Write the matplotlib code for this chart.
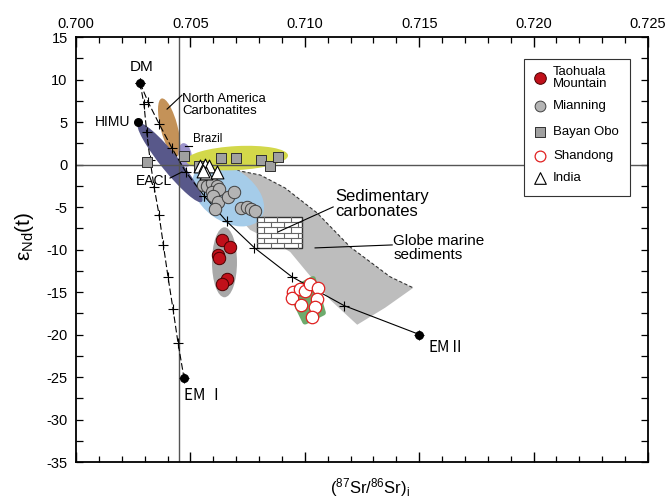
import matplotlib
matplotlib.use('Agg')
import matplotlib.pyplot as plt
from matplotlib.patches import Ellipse, Polygon, Rectangle
from matplotlib.transforms import ScaledTranslation
import numpy as np

plt.rcParams['font.family'] = ['Liberation Sans', 'DejaVu Sans']
plt.rcParams['mathtext.fontset'] = 'custom'
plt.rcParams['mathtext.rm'] = 'Liberation Sans'
plt.rcParams['mathtext.default'] = 'regular'
plt.rcParams['axes.unicode_minus'] = False

# End members (87Sr/86Sr, eNd)
dm = (0.70280, 9.6)
himu = (0.70272, 5.0)
em1 = (0.70472, -25.1)
em2 = (0.71501, -20.0)

# Mixing curves with tick marks
mix1_sr = [0.70280, 0.70297, 0.70309, 0.70324, 0.70341, 0.70363, 0.70382, 0.70402, 0.70424, 0.70446, 0.70472]
mix1_nd = [9.6, 7.1, 3.8, 0.5, -2.6, -5.9, -9.5, -13.2, -17.0, -21.0, -25.1]
mix2_sr = [0.70280, 0.70316, 0.70363, 0.70418, 0.70479, 0.70560, 0.70659, 0.70780, 0.70943, 0.71172, 0.71501]
mix2_nd = [9.6, 7.3, 4.8, 2.0, -0.85, -3.7, -6.7, -9.8, -13.2, -16.6, -20.0]

# Samples
tao_sr = [0.70637, 0.70673, 0.70622, 0.70627, 0.70659, 0.70640]
tao_nd = [-8.9, -9.7, -10.6, -11.0, -13.5, -14.1]
mian_sr = [0.70555, 0.70573, 0.70595, 0.70617, 0.70595, 0.70625, 0.70599, 0.70621,
           0.70608, 0.70665, 0.70691, 0.70721, 0.70748, 0.70765, 0.70783]
mian_nd = [-2.4, -2.5, -2.2, -2.5, -3.2, -2.9, -3.7, -4.4, -5.2, -3.8, -3.2, -5.1, -5.0, -5.2, -5.5]
bayan_sr = [0.70310, 0.70470, 0.70536, 0.70634, 0.70700, 0.70809, 0.70848, 0.70883]
bayan_nd = [0.24, 1.06, -0.18, 0.73, 0.73, 0.53, -0.12, 0.94]
shan_sr = [0.70949, 0.70944, 0.70979, 0.71001, 0.71023, 0.71056, 0.71052, 0.70983, 0.71045, 0.71031]
shan_nd = [-15.0, -15.7, -14.6, -14.9, -14.1, -14.5, -15.8, -16.5, -16.8, -17.9]
india_sr = [0.70542, 0.70564, 0.70582, 0.70568, 0.70617, 0.70555]
india_nd = [-0.18, -0.06, -0.18, -1.0, -0.88, -0.76]

# Globe marine sediments field
gms_sr = [0.70533, 0.70695, 0.70805, 0.70914, 0.71054, 0.71198, 0.71373, 0.71474, 0.71351,
          0.71229, 0.71111, 0.71001, 0.70936, 0.70848, 0.70761, 0.70673, 0.70586]
gms_nd = [-0.41, -0.65, -1.23, -2.76, -5.70, -9.69, -13.21, -14.51, -16.85,
          -18.85, -15.92, -12.39, -10.28, -8.87, -7.69, -5.11, -2.76]
# Shandong field
sd_sr = [0.70936, 0.71036, 0.71080, 0.71001]
sd_nd = [-14.88, -13.45, -17.44, -18.50]
# Sedimentary carbonates box
carb_sr = (0.70791, 0.70988)
carb_nd = (-9.8, -6.2)

fig = plt.figure(figsize=(6.69, 4.99), dpi=100)
ax = fig.add_axes([0.1136, 0.0741, 0.855, 0.8517])
ax.set_xlim(0.700, 0.725)
ax.set_ylim(-35, 15)


def blob(cx, cy, w, h, angle, color, z=2):
    # ellipse sized in pixels, centred on a data point
    tr = fig.dpi_scale_trans + ScaledTranslation(cx, cy, ax.transData)
    e = Ellipse((0, 0), w / 100, h / 100, angle=angle, transform=tr,
                facecolor=color, edgecolor='none', zorder=z)
    ax.add_patch(e)


# fields
ax.add_patch(Polygon(np.column_stack([gms_sr, gms_nd]), closed=True,
                     facecolor='#bdbdbd', edgecolor='none', zorder=1.5))
ax.plot(gms_sr[:8], gms_nd[:8], ls=(0, (3, 2)), color='#333333', lw=0.8, zorder=1.6)
ax.add_patch(Polygon(np.column_stack([sd_sr, sd_nd]), closed=True,
                     facecolor='#6dab6d', edgecolor='#6dab6d', lw=4, joinstyle='round', zorder=2))
blob(0.70665, -3.6, 80, 52, -35, '#a5cce9')
blob(0.70649, -11.5, 25, 70, 0, '#a8a8a8')
blob(0.70407, 4.35, 60, 17, -75.6, '#c49258')
blob(0.70411, 0.23, 101, 18, -51, '#58588a')
blob(0.70704, 0.76, 102, 24, 3, '#d3d84a', z=2.2)
blob(0.70477, 1.12, 13, 24, 10, '#9c93cc', z=2.1)

# reference lines
ax.axhline(0, color='#555555', lw=1.0, zorder=2.5)
ax.axvline(0.7045, color='#555555', lw=1.0, zorder=2.5)

# sedimentary carbonates brick box
x0, x1 = carb_sr
y0, y1 = carb_nd
ax.add_patch(Rectangle((x0, y0), x1 - x0, y1 - y0, facecolor='white',
                       edgecolor='#333333', lw=1.0, zorder=3))
nrow = 6
dy = (y1 - y0) / nrow
bw = (x1 - x0) / 3.3
for i in range(nrow):
    yb = y0 + i * dy
    if i > 0:
        ax.plot([x0, x1], [yb, yb], color='#666666', lw=0.8, zorder=3.1)
    xs = x0 + (bw / 2 if i % 2 else bw)
    while xs < x1 - 1e-6:
        ax.plot([xs, xs], [yb, yb + dy], color='#666666', lw=0.8, zorder=3.1)
        xs += bw

# mixing curves
ax.plot(mix1_sr, mix1_nd, color='black', lw=0.8, ls=(0, (6, 2.5)), marker='+',
        ms=7, mew=0.8, zorder=4)
ax.plot(mix2_sr[:6], mix2_nd[:6], color='black', lw=0.8, ls=(0, (6, 2.5)), marker='+',
        ms=7, mew=0.8, zorder=4)
ax.plot(mix2_sr[5:], mix2_nd[5:], color='black', lw=0.8, marker='+',
        ms=7, mew=0.8, zorder=4)

# end members
ax.scatter([dm[0], himu[0], em1[0], em2[0]], [dm[1], himu[1], em1[1], em2[1]],
           s=30, color='black', zorder=6)

# samples
ax.scatter(bayan_sr, bayan_nd, marker='s', s=55, facecolor='#a0a0a0', edgecolor='#303030', lw=0.7, zorder=5)
ax.scatter(mian_sr, mian_nd, marker='o', s=80, facecolor='#b4b4b4', edgecolor='#404040', lw=0.7, zorder=5)
ax.scatter(tao_sr, tao_nd, marker='o', s=80, facecolor='#c0101a', edgecolor='#4a0000', lw=0.7, zorder=5)
ax.scatter(shan_sr, shan_nd, marker='o', s=80, facecolor='white', edgecolor='#e02020', lw=0.9, zorder=5)
ax.scatter(india_sr, india_nd, marker='^', s=85, facecolor='white', edgecolor='black', lw=0.8, zorder=5.5)

# labels and leaders
ax.text(0.70287, 11.5, 'DM', fontsize=11, ha='center', va='center')
ax.text(0.70236, 5.05, 'HIMU', fontsize=10, ha='right', va='center')
ax.text(0.70262, -1.94, 'EACL', fontsize=10, ha='left', va='center')
ax.text(0.70463, 7.0, 'North America\nCarbonatites', fontsize=9.5, ha='left', va='center', linespacing=1.0)
ax.text(0.70512, 3.0, 'Brazil', fontsize=8.5, ha='left', va='center')
ax.text(0.71133, -4.6, 'Sedimentary\ncarbonates', fontsize=12, ha='left', va='center', linespacing=1.0)
ax.text(0.71386, -9.81, 'Globe marine\nsediments', fontsize=11, ha='left', va='center', linespacing=1.0)
ax.text(0.70472, -27.2, 'EM \u2160', fontsize=11, ha='left', va='center',
        family=['Noto Sans CJK SC', 'DejaVu Sans'])
ax.text(0.71539, -21.55, 'EM\u2161', fontsize=11, ha='left', va='center',
        family=['Noto Sans CJK SC', 'DejaVu Sans'])

leaders = [((0.70398, 6.52), (0.70463, 8.16)),
           ((0.70411, -1.59), (0.70463, -0.88)),
           ((0.70477, 2.17), (0.70507, 2.17)),
           ((0.71124, -4.99), (0.70883, -7.93)),
           ((0.71382, -9.46), (0.71045, -9.81))]
for a, b in leaders:
    ax.plot([a[0], b[0]], [a[1], b[1]], color='black', lw=0.8, zorder=4.5)

# axes styling
for sp in ax.spines.values():
    sp.set_linewidth(1.3)
ax.set_xticks(np.arange(0.700, 0.7251, 0.005))
ax.set_xticks(np.arange(0.700, 0.7251, 0.001), minor=True)
ax.set_yticks(np.arange(-35, 16, 5))
ax.set_yticks(np.arange(-35, 16, 2.5), minor=True)
ax.xaxis.set_major_formatter(matplotlib.ticker.FormatStrFormatter('%.3f'))
ax.tick_params(axis='x', which='both', direction='in', top=True, bottom=True,
               labeltop=True, labelbottom=False, labelsize=10.5, pad=4)
ax.tick_params(axis='x', which='major', length=7, width=1.0)
ax.tick_params(axis='x', which='minor', length=4, width=0.9)
ax.tick_params(axis='y', which='both', direction='in', left=True, right=True,
               labelsize=10.5, length=5, width=0.9, pad=6)

ax.text(0.514, -0.06, '($^{87}$Sr/$^{86}$Sr)$_{i}$', transform=ax.transAxes,
        fontsize=12, ha='center', va='center')
ax.text(-0.09, 0.53, '\u03b5$_{Nd}$(t)', transform=ax.transAxes, rotation=90,
        fontsize=15, ha='center', va='center')

# legend box
ax.add_patch(Rectangle((0.7832, 0.6259), 0.1853, 0.3223, transform=ax.transAxes,
                       facecolor='white', edgecolor='#333333', lw=0.8, zorder=7))
leg_y = [0.9035, 0.8376, 0.7772, 0.72, 0.6675]
leg_txt = ['Taohuala\nMountain', 'Mianning', 'Bayan Obo', 'Shandong', 'India']
leg_style = [dict(marker='o', s=70, facecolor='#c0101a', edgecolor='#4a0000', lw=0.7),
             dict(marker='o', s=60, facecolor='#b4b4b4', edgecolor='#404040', lw=0.7),
             dict(marker='s', s=45, facecolor='#a0a0a0', edgecolor='#303030', lw=0.7),
             dict(marker='o', s=60, facecolor='white', edgecolor='#e02020', lw=0.9),
             dict(marker='^', s=70, facecolor='white', edgecolor='black', lw=0.8)]
for yy, txt, st in zip(leg_y, leg_txt, leg_style):
    ax.scatter([0.8112], [yy], transform=ax.transAxes, zorder=8, clip_on=False, **st)
    ax.text(0.8339, yy, txt, transform=ax.transAxes, fontsize=9.5, ha='left',
            va='center', linespacing=1.0, zorder=8)

fig.savefig('out.png', dpi=100)
